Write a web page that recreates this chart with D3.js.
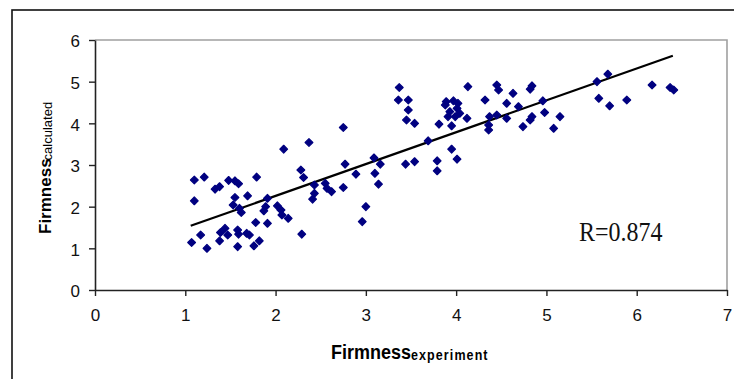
<!DOCTYPE html>
<html lang="en">
<head>
<meta charset="utf-8">
<title>Firmness calculated vs experiment</title>
<script src="https://d3js.org/d3.v7.min.js"></script>
<style>
  body { margin: 0; background: #fff; }
  svg { display: block; }
  .tick text { font-family: "Liberation Sans", Arial, sans-serif; font-size: 17px; fill: #111; }
</style>
</head>
<body>
<script>
// measured values (x = experiment, y = calculated)
var firmExp = [
  2.37, 2.09, 2.28, 2.31, 1.10, 1.21, 1.48, 1.55, 1.59, 1.79, 1.33, 1.38, 2.43, 2.43, 2.41,
  1.10, 1.55, 1.69, 1.91, 1.53, 1.60, 1.62, 1.87, 1.89, 2.02, 2.06, 2.07, 2.14, 1.78, 1.91,
  1.44, 1.39, 1.47, 1.58, 1.59, 1.68, 1.71, 2.29, 1.17, 1.07, 1.38, 1.58, 1.24, 1.76, 1.82,
  3.37, 3.36, 3.47, 3.47, 3.45, 3.54, 2.75, 3.09, 3.16, 2.77, 3.44, 3.54, 2.89, 3.10, 3.14,
  2.75, 2.55, 2.57, 2.62, 3.00, 2.96,
  4.13, 4.45, 4.47, 4.32, 4.63, 4.56, 4.69, 3.89, 3.97, 4.02, 3.88, 4.01, 3.93, 4.04, 4.12,
  3.91, 3.99, 3.81, 3.95, 4.37, 4.45, 4.56, 4.36, 4.36, 3.69, 4.74, 3.95, 4.01, 3.79, 3.79,
  5.68, 5.56, 6.17, 6.37, 6.41, 5.58, 5.70, 5.89, 4.84, 4.82, 4.96, 4.98, 5.15, 4.84, 4.82, 5.08
];
var firmCalc = [
  3.54, 3.38, 2.88, 2.70, 2.64, 2.71, 2.63, 2.62, 2.55, 2.71, 2.42, 2.48, 2.52, 2.32, 2.18,
  2.14, 2.22, 2.26, 2.20, 2.04, 1.96, 1.86, 1.90, 2.00, 2.02, 1.92, 1.80, 1.72, 1.62, 1.60,
  1.48, 1.38, 1.32, 1.44, 1.34, 1.36, 1.32, 1.34, 1.32, 1.14, 1.18, 1.04, 1.00, 1.06, 1.18,
  4.86, 4.56, 4.56, 4.32, 4.08, 4.00, 3.90, 3.17, 3.02, 3.02, 3.02, 3.08, 2.78, 2.80, 2.54,
  2.46, 2.56, 2.44, 2.36, 2.00, 1.64,
  4.88, 4.92, 4.80, 4.56, 4.72, 4.48, 4.40, 4.52, 4.54, 4.48, 4.44, 4.36, 4.28, 4.24, 4.12,
  4.16, 4.16, 3.98, 3.94, 4.16, 4.20, 4.12, 3.96, 3.84, 3.58, 3.92, 3.38, 3.14, 3.10, 2.86,
  5.18, 5.00, 4.92, 4.86, 4.80, 4.60, 4.42, 4.56, 4.90, 4.82, 4.54, 4.26, 4.16, 4.16, 4.08, 3.88
];
// fitted line end points
var trendX = [1.06, 6.40];
var trendY = [1.54, 5.62];
var xTicks = [0, 1, 2, 3, 4, 5, 6, 7];
var yTicks = [0, 1, 2, 3, 4, 5, 6];
var rLabel = "R=0.874";

var width = 734, height = 379;

var svg = d3.select("body").append("svg")
    .attr("width", width)
    .attr("height", height);

// outer chart frame (runs off the right / bottom edge)
svg.append("rect")
    .attr("x", 12).attr("y", 10)
    .attr("width", 800).attr("height", 420)
    .attr("fill", "#fff")
    .attr("stroke", "#111")
    .attr("stroke-width", 1.6);

var x = d3.scaleLinear().domain([0, 7]).range([95, 727]);
var y = d3.scaleLinear().domain([0, 6]).range([290, 40]);

// plot area border (grey top / right)
svg.append("path")
    .attr("d", "M" + x(0) + "," + y(6) + "H" + x(7) + "V" + y(0))
    .attr("fill", "none")
    .attr("stroke", "#a0a0a0")
    .attr("stroke-width", 1.6);

var fmt = d3.format("d");

var xAxis = svg.append("g")
    .attr("transform", "translate(0," + y(0) + ")")
    .call(d3.axisBottom(x).tickValues(xTicks).tickFormat(fmt)
      .tickSize(6).tickSizeOuter(0).tickPadding(13));

var yAxis = svg.append("g")
    .attr("transform", "translate(" + x(0) + ",0)")
    .call(d3.axisLeft(y).tickValues(yTicks).tickFormat(fmt)
      .tickSize(6).tickSizeOuter(0).tickPadding(9));

[xAxis, yAxis].forEach(function(g) {
  g.select(".domain").attr("stroke", "#222").attr("stroke-width", 1.6);
  g.selectAll(".tick line").attr("stroke", "#222").attr("stroke-width", 1.4);
});
yAxis.selectAll(".tick text").attr("dy", "0.4em");

// regression line
svg.append("path")
    .datum(d3.zip(trendX, trendY))
    .attr("fill", "none")
    .attr("stroke", "#000")
    .attr("stroke-width", 2.2)
    .attr("d", d3.line().x(function(d) { return x(d[0]); }).y(function(d) { return y(d[1]); }));

// diamond markers
var diamond = d3.symbol().type(d3.symbolSquare).size(30);
svg.append("g")
    .selectAll("path")
    .data(d3.zip(firmExp, firmCalc))
    .enter().append("path")
    .attr("d", diamond)
    .attr("transform", function(d) { return "translate(" + x(d[0]) + "," + y(d[1]) + ") rotate(45)"; })
    .attr("fill", "#000080")
    .attr("stroke", "#000080")
    .attr("stroke-width", 1.2)
    .attr("stroke-linejoin", "round");

// x axis title
var xt = svg.append("text")
    .attr("transform", "translate(331,359) scale(1,1.15)")
    .attr("font-family", "Liberation Sans, Arial, sans-serif")
    .attr("font-weight", "bold")
    .attr("fill", "#000");
xt.append("tspan").attr("font-size", 18).text("Firmness");
xt.append("tspan").attr("font-size", 12.5).attr("letter-spacing", 1.1).attr("dy", 1).text("experiment");

// y axis title
var yt = svg.append("text")
    .attr("transform", "translate(51,234) rotate(-90)")
    .attr("font-family", "Liberation Sans, Arial, sans-serif")
    .attr("fill", "#000");
yt.append("tspan").attr("font-size", 17).attr("font-weight", "bold").text("Firmness");
yt.append("tspan").attr("font-size", 13).attr("dy", 1).attr("dx", -2).text("calculated");

// correlation label
svg.append("text")
    .attr("transform", "translate(579,241) scale(1,1.18)")
    .attr("font-family", "Liberation Serif, Times New Roman, serif")
    .attr("font-size", 24)
    .attr("fill", "#111")
    .text(rLabel);
</script>
</body>
</html>
